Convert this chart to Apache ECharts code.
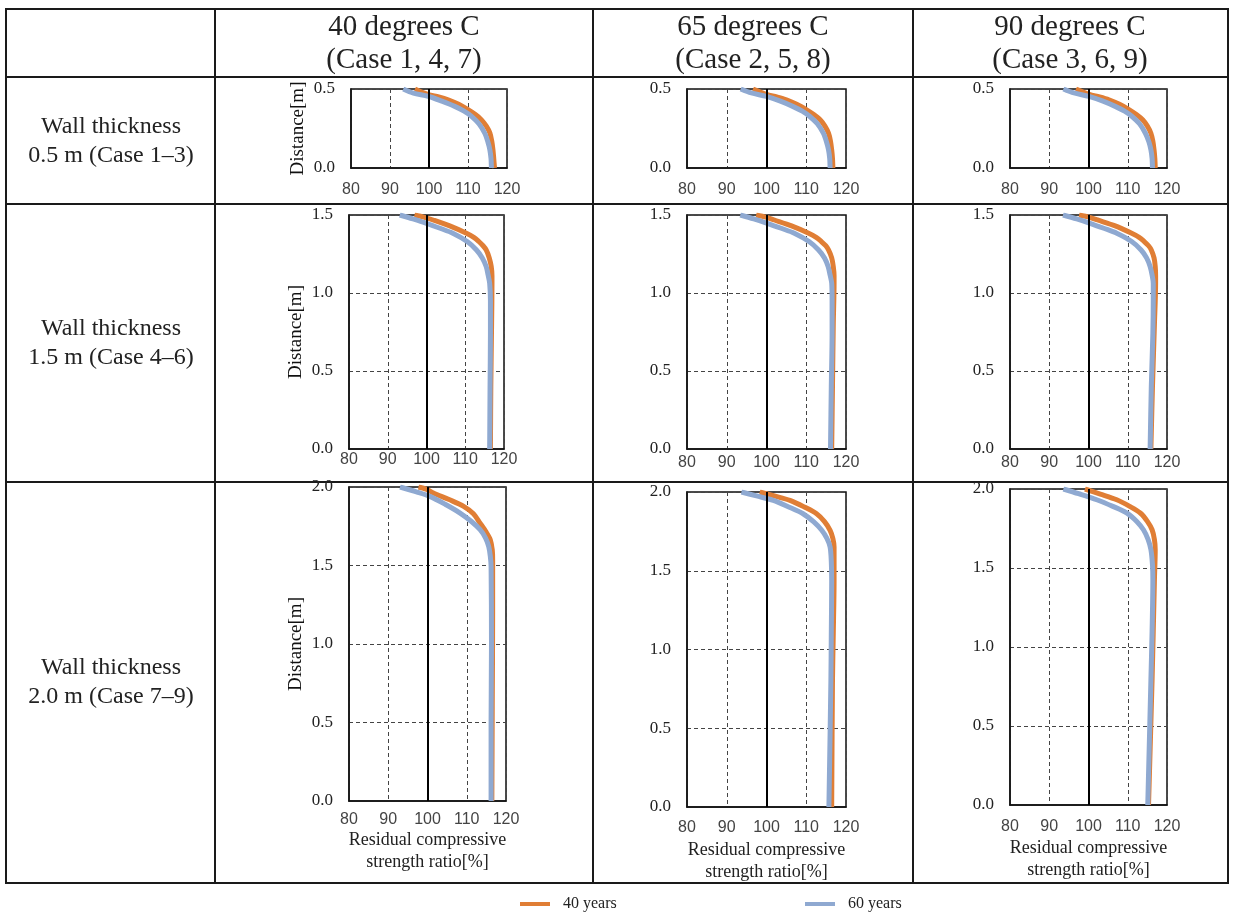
<!DOCTYPE html>
<html><head><meta charset="utf-8">
<script src="https://cdn.jsdelivr.net/npm/echarts@6/dist/echarts.min.js"></script>
<style>html,body{margin:0;padding:0;background:#fff}#c{width:1233px;height:912px}</style>
</head><body><div id="c"></div>
<script>
// ---- labels ----
const colHeaders = ['40 degrees C\n(Case 1, 4, 7)', '65 degrees C\n(Case 2, 5, 8)', '90 degrees C\n(Case 3, 6, 9)'];
const rowHeaders = ['Wall thickness\n0.5 m (Case 1\u20133)', 'Wall thickness\n1.5 m (Case 4\u20136)', 'Wall thickness\n2.0 m (Case 7\u20139)'];
const wallThickness = [0.5, 1.5, 2.0];
const xTicks = [80, 90, 100, 110, 120];
const seriesNames = ['40 years', '60 years'];
const yAxisName = 'Distance[m]';
const xAxisName = 'Residual compressive\nstrength ratio[%]';

// ---- data: [residual compressive strength ratio %, distance m] ----
// Wall 0.5 m
const w05_t40_y40 = [[96.4,0.5],[99.8,0.465],[102.5,0.45],[104.9,0.432],[107.6,0.403],[110,0.369],[111.9,0.338],[113.4,0.306],[114.7,0.265],[115.6,0.222],[116.1,0.17],[116.4,0.116],[116.6,0.06],[116.8,0]];
const w05_t40_y60 = [[93.4,0.5],[96,0.474],[99.8,0.454],[103.3,0.423],[106.6,0.39],[109,0.36],[110.9,0.327],[112.8,0.28],[114.3,0.22],[115.1,0.165],[115.6,0.116],[115.9,0.06],[116,0]];
const w05_t65_y40 = [[96.6,0.5],[100,0.466],[102.6,0.45],[105,0.432],[107.6,0.403],[110,0.37],[111.9,0.338],[113.5,0.305],[114.7,0.265],[115.6,0.22],[116.1,0.17],[116.4,0.115],[116.6,0.06],[116.7,0]];
const w05_t65_y60 = [[93.5,0.5],[96.2,0.475],[100,0.453],[103.5,0.423],[106.6,0.39],[109,0.36],[110.9,0.326],[112.8,0.28],[114.3,0.22],[115.1,0.165],[115.6,0.115],[115.9,0.06],[116,0]];
const w05_t90_y40 = [[96.8,0.5],[100.2,0.466],[102.8,0.45],[105.2,0.432],[107.9,0.403],[110.3,0.37],[112.2,0.338],[113.8,0.305],[115,0.265],[115.9,0.22],[116.4,0.17],[116.7,0.115],[116.9,0.06],[117,0]];
const w05_t90_y60 = [[93.6,0.5],[96.3,0.475],[100.1,0.453],[103.7,0.423],[106.8,0.39],[109.2,0.36],[111.1,0.326],[113,0.28],[114.5,0.22],[115.4,0.165],[115.9,0.115],[116.2,0.06],[116.3,0]];
// Wall 1.5 m
const w15_t40_y40 = [[96.9,1.5],[99.5,1.485],[101.7,1.468],[106,1.43],[110.3,1.383],[112.2,1.357],[113.5,1.33],[114.6,1.303],[115.4,1.276],[116.2,1.225],[116.7,1.17],[116.9,1.11],[116.9,1.063],[116.8,0.8],[116.6,0.4],[116.5,0]];
const w15_t40_y60 = [[93.1,1.5],[96.5,1.475],[100,1.447],[103.5,1.415],[106.8,1.383],[110.5,1.33],[112.9,1.276],[114.4,1.225],[115.4,1.17],[115.9,1.115],[116.3,1.063],[116.5,0.95],[116.5,0.742],[116.4,0.4],[116.3,0]];
const w15_t65_y40 = [[97.4,1.5],[100,1.485],[102,1.468],[106.3,1.43],[110.6,1.383],[112.5,1.357],[113.8,1.33],[114.9,1.303],[115.6,1.276],[116.4,1.225],[116.8,1.17],[117,1.11],[117,1.063],[116.8,0.8],[116.6,0.4],[116.4,0]];
const w15_t65_y60 = [[93.4,1.5],[96.8,1.475],[100.2,1.447],[103.7,1.415],[107,1.383],[110.7,1.33],[113.1,1.276],[114.6,1.225],[115.5,1.17],[116,1.115],[116.4,1.063],[116.5,0.95],[116.5,0.742],[116.3,0.4],[116.1,0]];
const w15_t90_y40 = [[97.6,1.5],[100.3,1.485],[102.3,1.468],[106.8,1.43],[111,1.383],[112.9,1.357],[114.2,1.33],[115.3,1.303],[116,1.276],[116.7,1.225],[117,1.17],[117.1,1.11],[117.1,1.063],[116.8,0.8],[116.3,0.4],[115.9,0]];
const w15_t90_y60 = [[93.5,1.5],[97,1.475],[100.4,1.447],[103.9,1.415],[107.2,1.383],[111,1.33],[113.4,1.276],[114.8,1.225],[115.7,1.17],[116.2,1.115],[116.5,1.063],[116.5,0.95],[116.4,0.742],[116,0.4],[115.7,0]];
// Wall 2.0 m
const w20_t40_y40 = [[97.7,2.0],[99.8,1.985],[101.5,1.962],[105.5,1.92],[109.2,1.877],[111.7,1.83],[113.4,1.77],[114.9,1.715],[116,1.664],[116.5,1.6],[116.6,1.537],[116.6,1.2],[116.5,0.6],[116.4,0]];
const w20_t40_y60 = [[93,2.0],[97,1.97],[100.6,1.94],[104.5,1.89],[108.3,1.834],[111.2,1.78],[113.4,1.728],[114.8,1.675],[115.6,1.62],[116,1.56],[116.2,1.494],[116.3,1.0],[116.2,0.5],[116.2,0]];
const w20_t65_y40 = [[98.3,2.0],[102,1.975],[105.9,1.947],[109.5,1.905],[112.6,1.862],[114.6,1.812],[116,1.757],[116.7,1.705],[117,1.651],[117,1.44],[116.8,1.1],[116.6,0.804],[116.4,0]];
const w20_t65_y60 = [[93.7,2.0],[97.5,1.975],[101.7,1.947],[105.6,1.905],[109.2,1.862],[111.9,1.81],[113.9,1.757],[115.2,1.705],[116,1.651],[116.3,1.56],[116.4,1.44],[116.3,1.1],[116.2,0.804],[115.7,0]];
const w20_t90_y40 = [[99.1,2.0],[103,1.968],[107.2,1.932],[110.5,1.89],[113.2,1.848],[115,1.795],[116.2,1.742],[116.8,1.68],[117,1.616],[116.8,1.426],[116.5,1.1],[116.2,0.792],[115.3,0]];
const w20_t90_y60 = [[93.6,2.0],[97.5,1.97],[102.1,1.932],[106.2,1.89],[109.8,1.848],[112.3,1.795],[114,1.742],[115.2,1.68],[115.9,1.616],[116.3,1.52],[116.4,1.426],[116.2,1.1],[115.9,0.792],[115.1,0]];

const chartData = [
  [[w05_t40_y40, w05_t40_y60], [w05_t65_y40, w05_t65_y60], [w05_t90_y40, w05_t90_y60]],
  [[w15_t40_y40, w15_t40_y60], [w15_t65_y40, w15_t65_y60], [w15_t90_y40, w15_t90_y60]],
  [[w20_t40_y40, w20_t40_y60], [w20_t65_y40, w20_t65_y60], [w20_t90_y40, w20_t90_y60]]
];

// ---- layout ----
const gridBoxes = [
  [{left:351,top:89,width:156,height:79},{left:687,top:89,width:159,height:79},{left:1010,top:89,width:157,height:79}],
  [{left:349,top:215,width:155,height:234},{left:687,top:215,width:159,height:234},{left:1010,top:215,width:157,height:234}],
  [{left:349,top:487,width:157,height:314},{left:687,top:492,width:159,height:315},{left:1010,top:489,width:157,height:316}]
];
const xLabelMargins = [[14,14,14],[3,6,6],[11,13,14]];
const xNameGaps = [26,32,32];
const colors = ['#E07E35', '#8FA9D1'];
const serif = '"Liberation Serif", "Times New Roman", serif';
const sans = '"Liberation Sans", Arial, sans-serif';

const grid = [], xAxis = [], yAxis = [], series = [];
let idx = 0;
for (let r = 0; r < 3; r++) {
  for (let c = 0; c < 3; c++) {
    const b = gridBoxes[r][c];
    grid.push({left:b.left, top:b.top, width:b.width, height:b.height, show:true, borderColor:'#111', borderWidth:1.5, backgroundColor:'#fff'});
    xAxis.push({
      type:'value', gridIndex:idx, min:xTicks[0], max:xTicks[xTicks.length-1], interval:10,
      axisLine:{lineStyle:{color:'#111', width:1.5}}, axisTick:{show:false},
      axisLabel:{color:'#444', fontFamily:sans, fontSize:16, margin:xLabelMargins[r][c]},
      splitLine:{show:true, lineStyle:{color:'#444', type:[4,3], width:1}},
      name: r === 2 ? xAxisName : '', nameLocation:'middle', nameGap:xNameGaps[c],
      nameTextStyle:{fontFamily:serif, fontSize:18, color:'#222', lineHeight:22}
    });
    yAxis.push({
      type:'value', gridIndex:idx, min:0, max:wallThickness[r], interval:0.5,
      axisLine:{lineStyle:{color:'#111', width:1.5}}, axisTick:{show:false},
      axisLabel:{color:'#222', fontFamily:serif, fontSize:17, margin:16, formatter:v => v.toFixed(1)},
      splitLine:{show:true, lineStyle:{color:'#444', type:[4,3], width:1}},
      name: c === 0 ? yAxisName : '', nameLocation:'middle', nameGap:43, nameRotate:90,
      nameTextStyle:{fontFamily:serif, fontSize:19, color:'#111'}
    });
    for (let s = 0; s < 2; s++) {
      const ser = {
        type:'line', name:seriesNames[s], xAxisIndex:idx, yAxisIndex:idx,
        data:chartData[r][c][s], showSymbol:false, symbol:'none', smooth:0.3,
        lineStyle:{color:colors[s], width:5}, itemStyle:{color:colors[s]},
        silent:true, animation:false, z: 3 + s
      };
      if (s === 0) {
        ser.markLine = {silent:true, symbol:'none', label:{show:false}, animation:false,
          lineStyle:{color:'#000', type:'solid', width:2}, data:[{xAxis:100}]};
      }
      series.push(ser);
    }
    idx++;
  }
}

// ---- table frame ----
const lineStyle = {stroke:'#1a1a1a', lineWidth:2};
const hLines = [9, 77, 204, 482, 883];
const vLines = [6, 215, 593, 913, 1228];
const graphic = [];
hLines.forEach(y => graphic.push({type:'line', silent:true, z:0, shape:{x1:5, y1:y, x2:1229, y2:y}, style:lineStyle}));
vLines.forEach(x => graphic.push({type:'line', silent:true, z:0, shape:{x1:x, y1:8, x2:x, y2:884}, style:lineStyle}));
const colCenters = [404, 753, 1070];
colHeaders.forEach((t, i) => graphic.push({type:'text', silent:true, x:colCenters[i], y:43.5,
  style:{text:t, textAlign:'center', textVerticalAlign:'middle', font:'29px ' + serif, lineHeight:33, fill:'#222'}}));
const rowCenters = [141, 343, 682];
rowHeaders.forEach((t, i) => graphic.push({type:'text', silent:true, x:111, y:rowCenters[i],
  style:{text:t, textAlign:'center', textVerticalAlign:'middle', font:'24px ' + serif, lineHeight:29, fill:'#222'}}));

const legendCommon = {orient:'horizontal', icon:'rect', itemWidth:30, itemHeight:4, selectedMode:false,
  textStyle:{fontFamily:serif, fontSize:16, color:'#222', padding:[0,0,0,8]}};
const legend = [
  Object.assign({}, legendCommon, {left:515, top:891, data:[seriesNames[0]]}),
  Object.assign({}, legendCommon, {left:800, top:891, data:[seriesNames[1]]})
];

const chart = echarts.init(document.getElementById('c'), null, {renderer:'canvas'});
chart.setOption({backgroundColor:'#fff', animation:false, grid, xAxis, yAxis, series, legend, graphic});
</script></body></html>
